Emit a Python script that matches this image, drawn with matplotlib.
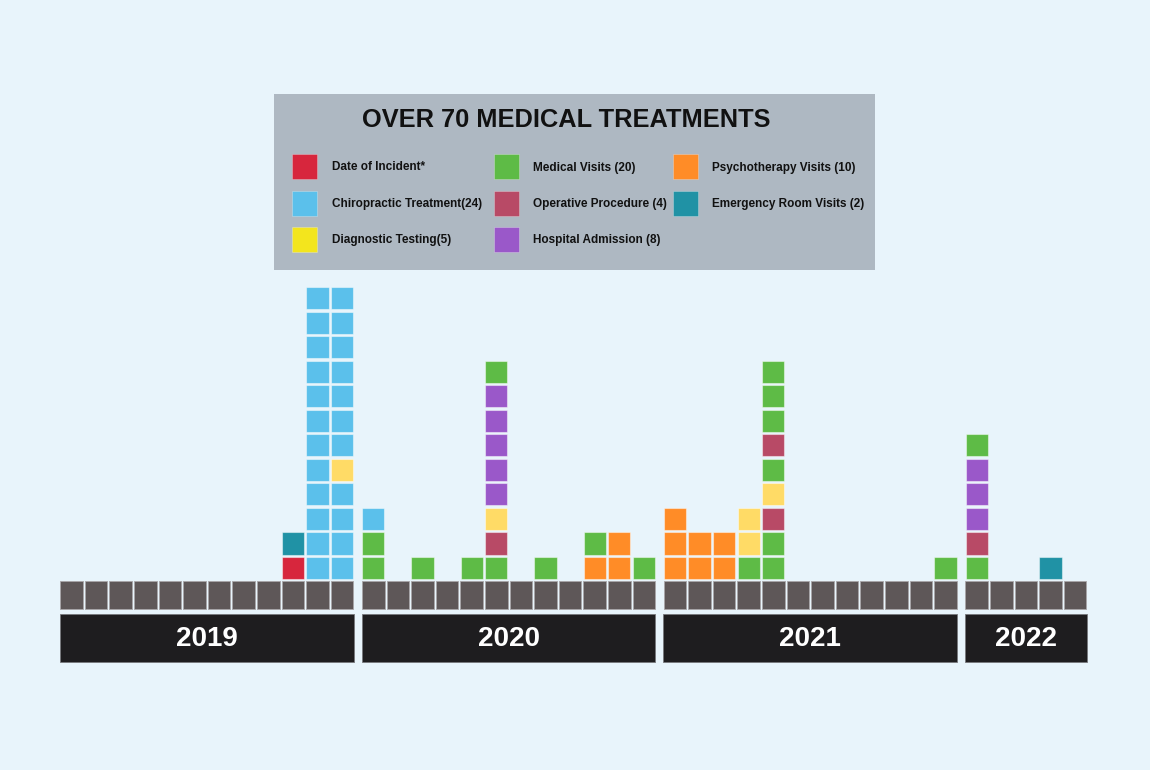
import matplotlib
matplotlib.use("Agg")
import matplotlib.pyplot as plt
from matplotlib.patches import Rectangle
from matplotlib import font_manager

# ---------------- data ----------------
years = ["2019", "2020", "2021", "2022"]
months_in_year = [12, 12, 12, 5]

# stacks per month, bottom -> top, one letter per treatment
# I=incident C=chiropractic D=diagnostic M=medical O=operative H=hospital P=psychotherapy E=ER
stack_2019 = ["", "", "", "", "", "", "", "", "", "IE", "CCCCCCCCCCCC", "CCCCDCCCCCCC"]
stack_2020 = ["MMC", "", "M", "", "M", "MODHHHHHM", "", "M", "", "PM", "PP", "M"]
stack_2021 = ["PPP", "PP", "PP", "MDD", "MMODMOMMM", "", "", "", "", "", "", "M"]
stack_2022 = ["MOHHHM", "", "", "E", ""]

category_codes = ["I", "C", "D", "M", "O", "H", "P", "E"]
category_labels = ["Date of Incident*", "Chiropractic Treatment(24)", "Diagnostic Testing(5)",
                   "Medical Visits (20)", "Operative Procedure (4)", "Hospital Admission (8)",
                   "Psychotherapy Visits (10)", "Emergency Room Visits (2)"]
title_text = "OVER 70 MEDICAL TREATMENTS"

chart_colors = {"I": "#D7263D", "C": "#5BC0EB", "D": "#FFDB66", "M": "#5EBB46",
                "O": "#B84A66", "H": "#9A58C9", "P": "#FF8C27", "E": "#2092A5"}
legend_colors = dict(chart_colors, D="#F3E51D")

# ---------------- style ----------------
BG = "#E8F4FB"
GRAY = "#5E5758"
YEARBAR = "#1E1D1F"
LEGBG = "#AEB8C2"

W, H = 1150, 770
X0, PX = 60.0, 24.6      # left pixel of first month, month pitch
BASE, PY = 579.0, 24.5   # pixel of stack base, row pitch
YEAR_GAP = 6.5 / PX

def has_font(name):
    try:
        font_manager.findfont(font_manager.FontProperties(family=name), fallback_to_default=False)
        return True
    except Exception:
        return False

if has_font("Liberation Sans Narrow"):
    leg_family, leg_size = ["Liberation Sans Narrow", "DejaVu Sans"], 10.0
else:
    leg_family, leg_size = ["Liberation Sans", "DejaVu Sans"], 8.5
main_family = ["Liberation Sans", "DejaVu Sans"]

fig = plt.figure(figsize=(W / 100, H / 100), dpi=100, facecolor=BG)
ax = fig.add_axes([0, 0, 1, 1])
ax.set_facecolor(BG)
ax.set_xlim(-X0 / PX, (W - X0) / PX)
ax.set_ylim((BASE - H) / PY, BASE / PY)
ax.axis("off")

stacks = [stack_2019, stack_2020, stack_2021, stack_2022]

gray_x, sq_x, sq_b, sq_c = [], [], [], []
idx = 0
year_spans = []
for yi, (yr, n, st) in enumerate(zip(years, months_in_year, stacks)):
    first = None
    for m in range(n):
        pos = idx + yi * YEAR_GAP
        if first is None:
            first = pos
        gray_x.append(pos)
        for k, code in enumerate(st[m]):
            sq_x.append(pos + 0.02)
            sq_b.append(k)
            sq_c.append(chart_colors[code])
        idx += 1
    year_spans.append((first, pos + 0.94, yr))

# baseline month squares
g_top = (BASE - 581) / PY
g_bot = (BASE - 609) / PY
ax.bar([x + 0.01 for x in gray_x], g_top - g_bot, width=0.92, bottom=g_bot, align="edge",
       color=GRAY, edgecolor="#A9A5A8", linewidth=0.6)

# stacked treatment squares
ax.bar(sq_x, 0.9, width=0.9, bottom=sq_b, align="edge", color=sq_c,
       edgecolor=(1, 1, 1, 0.45), linewidth=0.8)

# year bars
yb_top = (BASE - 614) / PY
yb_bot = (BASE - 662) / PY
for x0, x1, yr in year_spans:
    ax.add_patch(Rectangle((x0, yb_bot), x1 - x0, yb_top - yb_bot, facecolor=YEARBAR,
                           edgecolor="#77787C", linewidth=0.6))
    ax.text((x0 + x1) / 2, (BASE - 646) / PY, yr, ha="center", va="baseline",
            color="white", fontsize=20, fontweight="bold", family=main_family)

# ---------------- legend box ----------------
LX0, LY0, LX1, LY1 = 274, 94, 875, 270
lax = fig.add_axes([LX0 / W, 1 - LY1 / H, (LX1 - LX0) / W, (LY1 - LY0) / H])
lax.set_xlim(0, LX1 - LX0)
lax.set_ylim(LY1 - LY0, 0)
lax.set_facecolor(LEGBG)
lax.set_xticks([])
lax.set_yticks([])
for s in lax.spines.values():
    s.set_visible(False)

lax.text(292.5, 33, title_text, ha="center", va="baseline", fontsize=18.3,
         fontweight="bold", family=main_family, color="#111111")

col_sw = [18, 220, 399]
col_tx = [58, 259, 438]
row_c = [72.5, 109.5, 145.5]
SW = 25
for i, (code, lab) in enumerate(zip(category_codes, category_labels)):
    c, r = i // 3, i % 3
    lax.add_patch(Rectangle((col_sw[c], row_c[r] - SW / 2), SW, SW,
                            facecolor=legend_colors[code], edgecolor=(1, 1, 1, 0.3), linewidth=0.6))
    lax.text(col_tx[c], row_c[r] + 4, lab, ha="left", va="baseline", fontsize=leg_size,
             fontweight="bold", family=leg_family, color="#111111")

fig.savefig("out.png", dpi=100, facecolor=BG)
